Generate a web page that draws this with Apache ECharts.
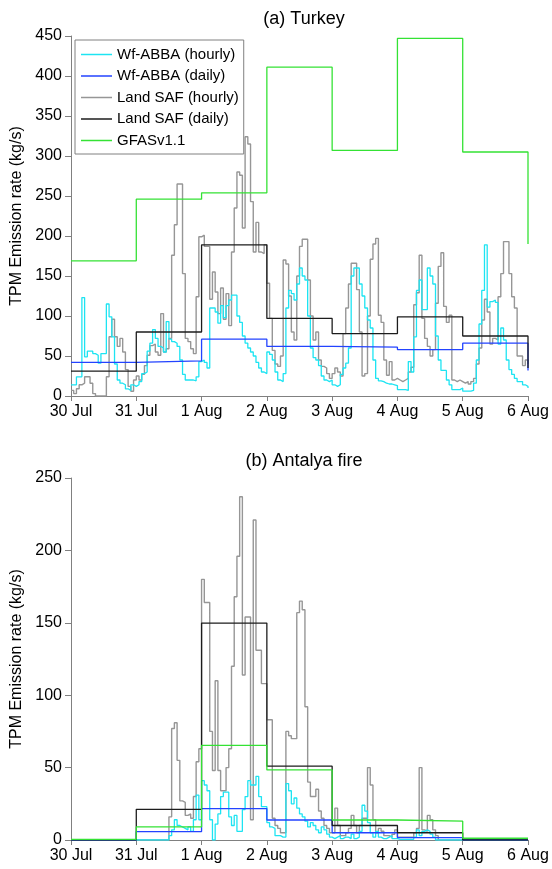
<!DOCTYPE html>
<html>
<head>
<meta charset="utf-8">
<script src="https://cdn.jsdelivr.net/npm/echarts@6/dist/echarts.min.js"></script>
<style>
  html, body { margin: 0; padding: 0; background: #fff; }
  #main { width: 552px; height: 869px; }
</style>
</head>
<body>
<div id="main"></div>
<script>
// x tick labels (one per day, 30 Jul .. 6 Aug)
var dayLabels = ['30 Jul', '31 Jul', '1 Aug', '2 Aug', '3 Aug', '4 Aug', '5 Aug', '6 Aug'];

// (a) Turkey - hourly values, 24 per day, 30 Jul .. 5 Aug
var wfHourlyA = [
  14,14,24,24,123,49,56,56,53,51,41,53,53,115,99,74,40,20,16,14,9,7,14,12,
  14,18,28,30,56,66,83,72,62,60,55,93,71,68,66,62,45,27,20,20,20,19,24,43,
  45,42,35,110,110,105,91,113,98,113,120,126,126,100,92,75,66,60,55,50,42,35,30,28,
  55,52,45,30,20,18,28,110,132,128,120,140,160,150,145,100,60,48,45,38,25,20,18,20,
  14,12,14,27,35,41,60,150,160,160,140,125,110,95,85,45,22,19,18,16,15,15,14,13,
  8,8,8,7,43,30,74,132,145,108,108,160,150,140,75,45,32,32,20,14,8,8,8,10,
  6,6,6,7,16,45,90,132,189,111,118,120,117,65,85,70,45,33,27,22,18,18,14,12
];
var wfHourlyAEnd = 10;
var lsHourlyA = [
  7,3,9,14,16,24,24,16,3,0,0,0,0,24,74,96,74,62,72,55,33,12,6,20,
  25,20,27,38,51,63,65,55,51,103,55,59,72,176,214,265,265,153,72,68,59,53,124,199,
  201,187,187,121,155,130,103,135,96,128,88,180,235,280,276,210,324,315,243,180,217,180,178,189,
  141,97,57,40,37,50,170,165,125,80,70,150,187,196,196,145,100,70,80,45,37,35,28,22,
  28,35,30,25,78,110,140,166,166,133,80,25,28,100,171,190,197,101,92,45,26,43,20,22,
  20,18,20,22,30,36,114,129,176,97,72,62,50,58,116,162,179,112,92,101,20,18,20,18,
  16,18,15,18,22,40,60,95,121,105,65,72,70,124,153,193,193,153,124,110,50,50,38,45
];
var lsHourlyAEnd = 40;
// (a) Turkey - daily values, last entry is the value at 6 Aug
var wfDailyA = [42, 44, 71, 62, 61, 58, 66, 32];
var lsDailyA = [31, 80, 189, 97, 78, 99, 75, 35];
var gfasA = [169, 246, 254, 411, 307, 447, 305, 190];

// (b) Antalya fire - hourly values
var wfHourlyB = [
  0,0,0,0,0,0,0,0,0,0,0,0,0,0,0,0,0,0,0,0,0,0,0,0,
  0,0,0,0,0,0,0,0,0,0,0,0,3,7,14,10,9,8,7,9,6,14,31,14,
  41,38,34,14,0,11,18,30,33,33,16,10,17,6,6,21,30,41,38,38,44,30,23,23,
  12,9,8,3,3,2,2,39,34,25,29,22,18,16,13,9,12,10,7,5,9,7,4,2,
  1,2,3,1,2,2,1,4,1,2,6,24,20,12,5,2,6,2,1,1,2,3,1,1,
  0.5,0.5,0.5,0.5,0.5,0.5,2,7,3,6,7,6,4,2,0,0,0,0,0,0,0,0,0,0,
  0,0,0,0,0,0,0,0,0,0,0,0,0,0,0,0,0,0,0,0,0,0,0,0
];
var wfHourlyBEnd = 0;
var lsHourlyB = [
  0,0,0,0,0,0,0,0,0,0,0,0,0,0,0,0,0,0,0,0,0,0,0,0,
  0,0,0,0,0,0,0,0,0,0,0,0,16,77,81,55,27,26,17,18,15,30,54,63,
  180,164,164,75,48,110,48,34,34,50,63,120,168,196,237,114,154,154,14,221,131,131,108,108,
  83,83,15,10,8,5,5,75,72,70,70,157,165,159,92,40,30,30,35,20,15,10,8,5,
  5,22,10,3,3,5,8,17,10,5,10,15,15,50,38,14,5,8,6,3,3,2,4,7,
  2,2,2,2,2,2,5,8,50,7,6,17,14,7,3,0,0,0,0,0,0,0,0,0,
  0,0,0,0,0,0,0,0,0,0,0,0,0,0,0,0,0,0,0,0,0,0,0,0
];
var lsHourlyBEnd = 0;
var wfDailyB = [0, 5.8, 21.7, 13.8, 5, 1.6, 0, 0];
var lsDailyB = [0, 21.2, 149.8, 51, 10, 5, 0, 0];
var gfasB = [0.5, 9, 65.4, 48.4, 13.8, 13, 1.2, 1.2];

var names = ['Wf-ABBA (hourly)', 'Wf-ABBA (daily)', 'Land SAF (hourly)', 'Land SAF (daily)', 'GFASv1.1'];
var colors = ['#1de4f2', '#2343ff', '#969696', '#1c1c1c', '#34e234'];
var font = "'Liberation Sans', Arial, sans-serif";

function hourly(vals, endVal) {
  var d = [];
  for (var i = 0; i < vals.length; i++) d.push([i / 24, vals[i]]);
  d.push([7, endVal]);
  return d;
}
function daily(vals) {
  var d = [];
  for (var i = 0; i < vals.length; i++) d.push([i, vals[i]]);
  return d;
}
function line(name, idx, data, k, z) {
  return {
    name: name, type: 'line', step: 'end', xAxisIndex: idx, yAxisIndex: idx,
    data: data, symbol: 'none', z: z,
    lineStyle: { color: colors[k], width: k == 2 ? 1.4 : 1.3 },
    itemStyle: { color: colors[k] }
  };
}

var myChart = echarts.init(document.getElementById('main'));

var xAxisBase = function (idx) {
  return {
    type: 'value', gridIndex: idx, min: 0, max: 7, interval: 1,
    axisLine: { lineStyle: { color: '#808080', width: 1 } },
    axisTick: { length: 5, lineStyle: { color: '#808080' } },
    splitLine: { show: false },
    axisLabel: { color: '#000', fontSize: 16, fontFamily: font, margin: 8,
      formatter: function (v) { return dayLabels[Math.round(v)]; } }
  };
};
var yAxisBase = function (idx, max) {
  return {
    type: 'value', gridIndex: idx, min: 0, max: max, interval: 50,
    name: 'TPM Emission rate (kg/s)', nameLocation: 'middle', nameGap: 41,
    nameTextStyle: { color: '#000', fontSize: 16, fontFamily: font },
    axisLine: { show: true, lineStyle: { color: '#808080', width: 1 } },
    axisTick: { show: true, length: 6, lineStyle: { color: '#808080' } },
    splitLine: { show: false },
    axisLabel: { color: '#000', fontSize: 16, fontFamily: font, margin: 9 }
  };
};

var legendData = names.map(function (n, k) {
  return { name: n, icon: 'rect', itemStyle: { color: colors[k] } };
});

var option = {
  animation: false,
  backgroundColor: '#fff',
  title: [
    { text: '(a) Turkey', left: 299, top: 5, textAlign: 'center',
      textStyle: { fontSize: 18, fontWeight: 'normal', color: '#000', fontFamily: font } },
    { text: '(b) Antalya fire', left: 299, top: 447, textAlign: 'center',
      textStyle: { fontSize: 18, fontWeight: 'normal', color: '#000', fontFamily: font } }
  ],
  legend: {
    data: legendData, orient: 'vertical', left: 75, top: 40,
    backgroundColor: '#fff', borderColor: '#808080', borderWidth: 1,
    padding: [6, 5, 5, 6], itemGap: 4.5, itemWidth: 31, itemHeight: 1.5,
    textStyle: { fontSize: 15, color: '#000', fontFamily: font, lineHeight: 17 }
  },
  grid: [
    { left: 71, right: 24, top: 36, height: 360 },
    { left: 71, right: 24, top: 478, height: 362 }
  ],
  xAxis: [xAxisBase(0), xAxisBase(1)],
  yAxis: [yAxisBase(0, 450), yAxisBase(1, 250)],
  series: [
    line(names[2], 0, hourly(lsHourlyA, lsHourlyAEnd), 2, 2),
    line(names[0], 0, hourly(wfHourlyA, wfHourlyAEnd), 0, 3),
    line(names[1], 0, daily(wfDailyA), 1, 4),
    line(names[3], 0, daily(lsDailyA), 3, 5),
    line(names[4], 0, daily(gfasA), 4, 6),
    line(names[2], 1, hourly(lsHourlyB, lsHourlyBEnd), 2, 2),
    line(names[0], 1, hourly(wfHourlyB, wfHourlyBEnd), 0, 3),
    line(names[1], 1, daily(wfDailyB), 1, 4),
    line(names[3], 1, daily(lsDailyB), 3, 5),
    line(names[4], 1, daily(gfasB), 4, 6)
  ]
};
myChart.setOption(option);
</script>
</body>
</html>
